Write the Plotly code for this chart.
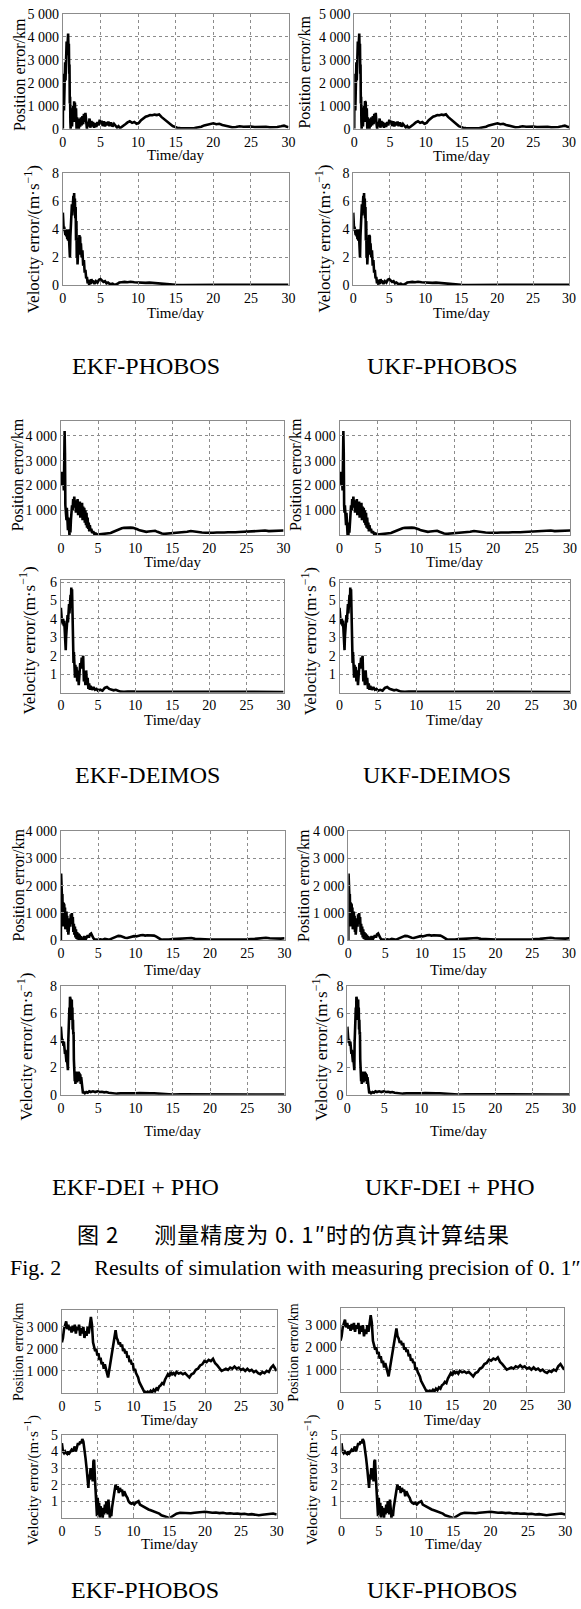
import plotly.graph_objects as go

W, H = 581, 1609
FONT = "Liberation Serif, Times New Roman, serif"
CJK = "Noto Sans CJK SC, sans-serif"

# ---------------- data (time/day, value) ----------------
# measuring precision 0.1", PHOBOS (EKF and UKF panels read identical)
phobos_pos = [(0.0, 0), (0.03, 2400), (0.07, 300), (0.11, 2200), (0.15, 800), (0.2, 2600), (0.25, 1500),
    (0.3, 2900), (0.35, 2100), (0.4, 3400), (0.45, 2700), (0.5, 3800), (0.55, 3200), (0.6, 4000),
    (0.65, 3500), (0.7, 4150), (0.75, 3400), (0.8, 3700), (0.84, 2400), (0.88, 2800), (0.92, 1100),
    (0.96, 1400), (1.0, 300), (1.04, 0), (1.08, 900), (1.12, 200), (1.17, 800), (1.22, 100), (1.3, 750),
    (1.38, 1000), (1.45, 300), (1.5, 1200), (1.55, 600), (1.6, 1150), (1.68, 300), (1.75, 900), (1.82, 0),
    (1.9, 500), (1.97, 100), (2.05, 450), (2.12, 0), (2.22, 350), (2.3, 100), (2.4, 500), (2.5, 150),
    (2.6, 550), (2.7, 200), (2.8, 650), (2.9, 300), (3.0, 700), (3.1, 250), (3.2, 0), (3.3, 300),
    (3.4, 100), (3.55, 450), (3.65, 50), (3.8, 350), (3.9, 100), (4.0, 300), (4.15, 50), (4.3, 250),
    (4.45, 80), (4.6, 300), (4.75, 150), (4.9, 400), (5.0, 250), (5.15, 350), (5.3, 120), (5.45, 330),
    (5.6, 100), (5.75, 300), (5.9, 150), (6.05, 320), (6.2, 120), (6.4, 280), (6.6, 100), (6.8, 220),
    (7.0, 150), (7.2, 60), (7.4, 120), (7.6, 30), (7.8, 80), (8.0, 120), (8.3, 200), (8.6, 280),
    (8.9, 330), (9.2, 260), (9.5, 300), (9.8, 220), (10.1, 260), (10.4, 380), (10.7, 470), (11.0, 530),
    (11.3, 560), (11.6, 600), (11.9, 590), (12.2, 620), (12.5, 600), (12.8, 630), (13.1, 520),
    (13.4, 430), (13.7, 350), (14.0, 270), (14.3, 200), (14.6, 120), (14.9, 70), (15.2, 50), (15.6, 40),
    (16.0, 30), (16.5, 40), (17.0, 25), (17.5, 35), (18.0, 50), (18.4, 90), (18.8, 150), (19.2, 190),
    (19.6, 210), (20.0, 240), (20.4, 200), (20.8, 220), (21.2, 170), (21.6, 130), (22.0, 100),
    (22.5, 70), (23.0, 80), (23.5, 110), (24.0, 90), (24.5, 110), (25.0, 100), (25.5, 80), (26.0, 90),
    (26.5, 70), (27.0, 90), (27.5, 70), (28.0, 60), (28.5, 80), (29.0, 110), (29.4, 140), (29.7, 100),
    (30.0, 70)]

phobos_vel = [(0.0, 5.2), (0.04, 4.0), (0.08, 4.6), (0.12, 3.9), (0.17, 4.2), (0.22, 3.8), (0.28, 4.1),
    (0.34, 3.6), (0.4, 4.0), (0.46, 3.5), (0.52, 3.9), (0.58, 3.3), (0.64, 3.8), (0.7, 3.2), (0.76, 4.0),
    (0.82, 3.4), (0.88, 2.6), (0.94, 2.0), (1.0, 3.5), (1.05, 4.6), (1.1, 5.4), (1.15, 4.8), (1.2, 5.8),
    (1.25, 5.0), (1.3, 6.0), (1.35, 5.2), (1.4, 6.4), (1.45, 5.5), (1.5, 6.6), (1.55, 5.4), (1.6, 6.2),
    (1.65, 4.8), (1.7, 5.6), (1.75, 3.2), (1.8, 4.6), (1.85, 2.0), (1.9, 3.4), (1.95, 1.5), (2.0, 2.8),
    (2.05, 1.8), (2.1, 3.2), (2.15, 2.4), (2.2, 3.6), (2.25, 2.6), (2.3, 3.5), (2.35, 2.2), (2.4, 3.0),
    (2.5, 2.0), (2.6, 2.5), (2.7, 1.4), (2.8, 1.8), (2.9, 0.9), (3.0, 1.1), (3.1, 0.5), (3.2, 0.6),
    (3.3, 0.15), (3.4, 0.3), (3.5, 0.05), (3.6, 0.4), (3.7, 0.1), (3.8, 0.45), (3.9, 0.15), (4.0, 0.35),
    (4.2, 0.1), (4.4, 0.3), (4.6, 0.2), (4.8, 0.4), (5.0, 0.45), (5.2, 0.35), (5.4, 0.25), (5.6, 0.3),
    (5.8, 0.15), (6.0, 0.2), (6.3, 0.08), (6.6, 0.12), (6.9, 0.03), (7.2, 0.1), (7.5, 0.2), (7.8, 0.22),
    (8.2, 0.25), (8.6, 0.22), (9.0, 0.26), (9.5, 0.22), (10.0, 0.2), (10.5, 0.22), (11.0, 0.18),
    (11.5, 0.2), (12.0, 0.17), (12.5, 0.15), (13.0, 0.13), (13.5, 0.08), (14.0, 0.05), (15.0, 0.04),
    (16.0, 0.03), (17.0, 0.04), (18.0, 0.04), (19.0, 0.05), (20.0, 0.08), (21.0, 0.05), (22.0, 0.04),
    (24.0, 0.04), (26.0, 0.03), (28.0, 0.03), (30.0, 0.04)]

# measuring precision 0.1", DEIMOS
deimos_pos = [(0.0, 2000), (0.05, 2450), (0.1, 2300), (0.15, 2550), (0.2, 2400), (0.25, 2200), (0.3, 2450),
    (0.35, 2000), (0.4, 1800), (0.45, 3000), (0.5, 4200), (0.55, 3300), (0.6, 1200), (0.65, 900),
    (0.7, 1200), (0.75, 600), (0.8, 1100), (0.85, 400), (0.9, 900), (0.95, 200), (1.0, 700), (1.05, 0),
    (1.1, 500), (1.15, 0), (1.2, 300), (1.28, 100), (1.35, 600), (1.42, 900), (1.5, 1200), (1.58, 1000),
    (1.65, 1450), (1.72, 1100), (1.8, 1550), (1.88, 1200), (1.95, 1400), (2.02, 900), (2.1, 1350),
    (2.18, 1000), (2.25, 1450), (2.32, 800), (2.4, 1300), (2.48, 900), (2.55, 1350), (2.62, 700),
    (2.7, 1200), (2.78, 900), (2.85, 1300), (2.92, 600), (3.0, 1150), (3.08, 700), (3.15, 1100),
    (3.22, 500), (3.3, 1000), (3.38, 400), (3.45, 900), (3.52, 300), (3.6, 700), (3.68, 250), (3.75, 500),
    (3.82, 150), (3.9, 400), (4.0, 150), (4.1, 250), (4.2, 80), (4.35, 150), (4.5, 40), (4.7, 60),
    (4.9, 20), (5.2, 30), (5.5, 20), (5.8, 40), (6.1, 30), (6.4, 60), (6.7, 80), (7.0, 120), (7.3, 160),
    (7.6, 220), (7.9, 260), (8.2, 270), (8.5, 290), (8.8, 300), (9.1, 310), (9.4, 300), (9.7, 290),
    (10.0, 270), (10.3, 230), (10.6, 190), (10.9, 160), (11.2, 140), (11.5, 130), (11.8, 140),
    (12.1, 150), (12.4, 190), (12.7, 170), (13.0, 130), (13.3, 90), (13.6, 60), (14.0, 50), (14.5, 60),
    (15.0, 70), (15.5, 100), (16.0, 110), (16.5, 120), (17.0, 130), (17.5, 160), (18.0, 130),
    (18.5, 110), (19.0, 100), (19.5, 90), (20.0, 80), (20.5, 90), (21.0, 100), (21.5, 90), (22.0, 100),
    (22.5, 110), (23.0, 100), (23.5, 110), (24.0, 120), (24.5, 130), (25.0, 150), (25.5, 160),
    (26.0, 170), (26.5, 180), (27.0, 170), (27.5, 180), (28.0, 160), (28.5, 170), (29.0, 180),
    (29.5, 170), (30.0, 180)]

deimos_vel = [(0.0, 4.6), (0.05, 3.9), (0.1, 4.1), (0.15, 3.8), (0.2, 4.0), (0.25, 3.7), (0.3, 4.0),
    (0.35, 3.8), (0.4, 3.6), (0.45, 3.9), (0.5, 3.2), (0.55, 3.6), (0.6, 2.8), (0.65, 2.3), (0.7, 3.0),
    (0.75, 3.4), (0.8, 3.8), (0.85, 3.6), (0.9, 4.2), (0.95, 3.8), (1.0, 4.4), (1.05, 4.0), (1.1, 4.8),
    (1.15, 4.3), (1.2, 5.0), (1.25, 4.5), (1.3, 5.3), (1.35, 4.7), (1.4, 5.7), (1.45, 5.0), (1.5, 5.6),
    (1.55, 4.2), (1.6, 3.0), (1.65, 2.4), (1.7, 1.6), (1.75, 2.2), (1.8, 1.2), (1.85, 1.8), (1.9, 0.8),
    (1.95, 1.5), (2.0, 0.9), (2.1, 1.4), (2.2, 0.6), (2.3, 1.2), (2.4, 0.4), (2.5, 1.0), (2.6, 1.6),
    (2.7, 1.3), (2.8, 1.9), (2.9, 1.6), (3.0, 2.0), (3.05, 1.2), (3.1, 0.6), (3.2, 0.9), (3.3, 0.4),
    (3.4, 1.2), (3.5, 0.5), (3.6, 0.8), (3.7, 0.2), (3.8, 0.5), (3.9, 0.15), (4.0, 0.35), (4.2, 0.15),
    (4.4, 0.3), (4.6, 0.15), (4.8, 0.2), (5.0, 0.1), (5.3, 0.15), (5.6, 0.1), (5.9, 0.25), (6.2, 0.3),
    (6.5, 0.2), (6.8, 0.15), (7.1, 0.12), (7.4, 0.15), (7.7, 0.08), (8.0, 0.05), (8.5, 0.04), (9.0, 0.06),
    (10.0, 0.05), (11.0, 0.05), (12.0, 0.06), (13.0, 0.05), (14.0, 0.04), (15.0, 0.03), (17.0, 0.04),
    (19.0, 0.03), (21.0, 0.03), (23.0, 0.03), (25.0, 0.03), (27.0, 0.03), (30.0, 0.03)]

# measuring precision 0.1", DEI+PHO
deipho_pos = [(0.0, 0), (0.03, 2450), (0.06, 1800), (0.09, 400), (0.12, 1750), (0.16, 1500), (0.2, 1700),
    (0.24, 1000), (0.28, 1400), (0.32, 500), (0.36, 1350), (0.4, 800), (0.45, 1300), (0.5, 600),
    (0.55, 1200), (0.6, 400), (0.65, 1000), (0.7, 700), (0.75, 1050), (0.8, 400), (0.85, 900), (0.9, 300),
    (0.95, 750), (1.0, 200), (1.05, 600), (1.1, 300), (1.17, 800), (1.25, 500), (1.32, 950), (1.4, 700),
    (1.47, 1000), (1.54, 600), (1.6, 850), (1.67, 300), (1.74, 600), (1.8, 200), (1.88, 500), (1.95, 100),
    (2.02, 400), (2.1, 50), (2.18, 300), (2.26, 20), (2.35, 250), (2.44, 0), (2.52, 200), (2.6, 30),
    (2.7, 150), (2.8, 0), (2.9, 100), (3.0, 0), (3.15, 150), (3.3, 20), (3.45, 100), (3.6, 180),
    (3.75, 100), (3.9, 220), (4.05, 250), (4.2, 150), (4.35, 80), (4.5, 30), (4.7, 20), (5.0, 20),
    (5.3, 30), (5.6, 20), (5.9, 50), (6.2, 30), (6.5, 20), (6.8, 60), (7.1, 90), (7.4, 130), (7.7, 160),
    (8.0, 150), (8.3, 110), (8.6, 90), (8.9, 80), (9.2, 100), (9.5, 130), (9.8, 150), (10.1, 140),
    (10.4, 170), (10.7, 180), (11.0, 190), (11.3, 170), (11.6, 180), (11.9, 170), (12.2, 160),
    (12.5, 170), (12.8, 130), (13.1, 70), (13.4, 30), (13.7, 20), (14.0, 15), (14.5, 25), (15.0, 40),
    (15.5, 50), (16.0, 45), (16.5, 50), (17.0, 60), (17.5, 80), (18.0, 50), (18.5, 40), (19.0, 35),
    (19.5, 30), (20.0, 25), (21.0, 20), (22.0, 20), (23.0, 25), (24.0, 30), (25.0, 35), (26.0, 50),
    (26.5, 60), (27.0, 70), (27.5, 90), (28.0, 70), (28.5, 60), (29.0, 55), (29.5, 60), (30.0, 70)]

deipho_vel = [(0.0, 5.0), (0.04, 4.2), (0.08, 3.9), (0.12, 4.2), (0.16, 3.8), (0.2, 4.1), (0.25, 3.7),
    (0.3, 4.0), (0.35, 3.6), (0.4, 3.9), (0.45, 3.3), (0.5, 3.6), (0.55, 3.0), (0.6, 3.3), (0.65, 2.7),
    (0.7, 3.0), (0.75, 2.4), (0.8, 2.8), (0.85, 2.0), (0.9, 2.4), (0.94, 1.8), (0.98, 3.8), (1.02, 4.8),
    (1.06, 5.6), (1.1, 5.0), (1.14, 6.4), (1.18, 5.6), (1.22, 7.2), (1.26, 6.0), (1.3, 7.0), (1.34, 5.8),
    (1.38, 6.8), (1.42, 5.5), (1.46, 7.0), (1.5, 5.6), (1.54, 6.4), (1.58, 4.8), (1.62, 5.5), (1.66, 4.4),
    (1.7, 4.6), (1.74, 2.6), (1.78, 1.0), (1.82, 1.8), (1.86, 1.0), (1.9, 1.6), (1.95, 0.8), (2.0, 1.7),
    (2.06, 1.0), (2.12, 1.6), (2.18, 0.9), (2.24, 1.5), (2.3, 1.1), (2.36, 1.7), (2.42, 1.0), (2.48, 1.6),
    (2.54, 1.2), (2.6, 1.5), (2.66, 0.8), (2.72, 1.3), (2.78, 0.7), (2.84, 1.0), (2.9, 0.4), (2.96, 0.1),
    (3.05, 0.2), (3.2, 0.1), (3.4, 0.2), (3.6, 0.15), (3.8, 0.25), (4.0, 0.2), (4.3, 0.25), (4.6, 0.2),
    (4.9, 0.25), (5.2, 0.2), (5.5, 0.22), (5.8, 0.18), (6.1, 0.2), (6.4, 0.15), (6.7, 0.12), (7.0, 0.1),
    (7.5, 0.08), (8.0, 0.1), (8.5, 0.09), (9.0, 0.11), (9.5, 0.1), (10.0, 0.1), (10.5, 0.12), (11.0, 0.1),
    (11.5, 0.11), (12.0, 0.1), (12.5, 0.1), (13.0, 0.08), (13.5, 0.04), (14.0, 0.02), (15.0, 0.02),
    (16.0, 0.03), (18.0, 0.02), (20.0, 0.03), (22.0, 0.02), (24.0, 0.02), (26.0, 0.02), (28.0, 0.02),
    (30.0, 0.02)]

# second PHOBOS case (bottom block)
phobos2_pos = [(0.0, 2300), (0.15, 2500), (0.3, 2900), (0.45, 3100), (0.6, 3250), (0.75, 2900), (0.9, 3100),
    (1.05, 2850), (1.2, 3000), (1.35, 2750), (1.5, 3050), (1.65, 2800), (1.8, 3100), (1.95, 2700),
    (2.1, 3000), (2.25, 2850), (2.4, 3100), (2.55, 2600), (2.7, 2950), (2.85, 2700), (3.0, 3000),
    (3.15, 2500), (3.3, 2800), (3.45, 2600), (3.6, 3000), (3.75, 2700), (3.9, 3200), (4.05, 3450),
    (4.2, 3100), (4.35, 2300), (4.5, 2100), (4.65, 1900), (4.8, 2000), (4.95, 1700), (5.1, 1800),
    (5.25, 1500), (5.4, 1600), (5.55, 1300), (5.7, 1400), (5.85, 1100), (6.0, 1300), (6.15, 1000),
    (6.3, 900), (6.45, 700), (6.6, 1000), (6.75, 1300), (6.9, 1600), (7.05, 1900), (7.2, 2200),
    (7.35, 2500), (7.5, 2850), (7.65, 2500), (7.8, 2400), (7.95, 2200), (8.1, 2300), (8.25, 2100),
    (8.4, 2200), (8.55, 1900), (8.7, 2000), (8.85, 1800), (9.0, 1900), (9.15, 1600), (9.3, 1700),
    (9.45, 1400), (9.6, 1500), (9.75, 1300), (9.9, 1350), (10.05, 1000), (10.2, 1100), (10.35, 900),
    (10.5, 800), (10.65, 700), (10.8, 500), (10.95, 400), (11.1, 300), (11.25, 200), (11.4, 80),
    (11.55, 20), (11.7, 50), (11.85, 0), (12.0, 60), (12.2, 20), (12.4, 100), (12.6, 30), (12.8, 150),
    (13.0, 80), (13.2, 200), (13.4, 150), (13.6, 300), (13.8, 350), (14.0, 450), (14.2, 400), (14.4, 600),
    (14.6, 700), (14.8, 850), (15.0, 750), (15.2, 950), (15.4, 850), (15.6, 900), (15.8, 820), (16.0, 950),
    (16.3, 880), (16.6, 920), (16.9, 850), (17.2, 900), (17.5, 800), (17.8, 700), (18.1, 850), (18.4, 900),
    (18.7, 1050), (19.0, 1100), (19.3, 1250), (19.6, 1300), (19.9, 1450), (20.2, 1400), (20.5, 1500),
    (20.8, 1450), (21.1, 1550), (21.4, 1350), (21.7, 1250), (22.0, 1100), (22.3, 1000), (22.6, 1050),
    (22.9, 1100), (23.2, 1050), (23.5, 1150), (23.8, 1100), (24.1, 1200), (24.4, 1100), (24.7, 1150),
    (25.0, 1050), (25.3, 1100), (25.6, 1000), (25.9, 1100), (26.2, 1000), (26.5, 1050), (26.8, 950),
    (27.1, 1000), (27.4, 900), (27.7, 850), (28.0, 950), (28.3, 900), (28.6, 1000), (28.9, 950),
    (29.2, 1150), (29.5, 1250), (29.8, 1100), (30.0, 1000)]

phobos2_vel = [(0.0, 4.5), (0.15, 4.0), (0.3, 3.9), (0.45, 4.0), (0.6, 3.9), (0.75, 3.85), (0.9, 4.0),
    (1.05, 3.9), (1.2, 4.0), (1.35, 4.1), (1.5, 4.0), (1.65, 4.2), (1.8, 4.3), (1.95, 4.0), (2.1, 4.3),
    (2.25, 4.5), (2.4, 4.4), (2.55, 4.6), (2.7, 4.5), (2.85, 4.75), (3.0, 4.6), (3.15, 4.2), (3.3, 3.6),
    (3.45, 3.0), (3.6, 2.4), (3.7, 1.8), (3.8, 2.6), (3.9, 2.3), (4.0, 3.0), (4.1, 2.6), (4.2, 2.8),
    (4.3, 2.2), (4.4, 3.4), (4.5, 3.5), (4.6, 2.5), (4.7, 1.5), (4.8, 0.6), (4.9, 0.1), (5.0, 1.2),
    (5.1, 0.3), (5.2, 0.9), (5.3, 0.0), (5.4, 0.7), (5.5, 0.2), (5.6, 0.6), (5.7, 0.0), (5.8, 0.5),
    (5.9, 0.2), (6.0, 0.8), (6.1, 0.3), (6.2, 1.0), (6.3, 0.4), (6.4, 0.2), (6.5, 1.1), (6.6, 0.3),
    (6.7, 0.0), (6.8, 0.4), (6.9, 0.1), (7.0, 0.6), (7.1, 1.0), (7.2, 1.4), (7.35, 1.6), (7.5, 2.0),
    (7.65, 1.7), (7.8, 1.9), (7.95, 1.5), (8.1, 1.8), (8.25, 1.6), (8.4, 1.7), (8.55, 1.3), (8.7, 1.6),
    (8.85, 1.4), (9.0, 1.3), (9.15, 1.2), (9.3, 1.0), (9.5, 0.9), (9.7, 0.85), (9.9, 0.9), (10.1, 0.8),
    (10.3, 0.9), (10.5, 0.95), (10.7, 1.0), (10.9, 0.8), (11.1, 0.75), (11.3, 0.7), (11.5, 0.6),
    (11.8, 0.55), (12.1, 0.5), (12.4, 0.45), (12.7, 0.4), (13.0, 0.35), (13.3, 0.3), (13.6, 0.25),
    (13.9, 0.15), (14.2, 0.1), (14.5, 0.05), (14.8, 0.02), (15.1, 0.0), (15.4, 0.08), (15.7, 0.15),
    (16.0, 0.25), (16.5, 0.3), (17.0, 0.28), (17.5, 0.3), (18.0, 0.27), (18.5, 0.3), (19.0, 0.32),
    (19.5, 0.33), (20.0, 0.36), (20.5, 0.33), (21.0, 0.3), (21.5, 0.32), (22.0, 0.28), (22.5, 0.3),
    (23.0, 0.26), (23.5, 0.27), (24.0, 0.24), (24.5, 0.26), (25.0, 0.22), (25.5, 0.24), (26.0, 0.2),
    (26.5, 0.22), (27.0, 0.18), (27.5, 0.15), (28.0, 0.18), (28.5, 0.2), (29.0, 0.22), (29.5, 0.26),
    (30.0, 0.2)]

# ---------------- tick labels ----------------
x_ticks = [0, 5, 10, 15, 20, 25, 30]
pos_ticks_5k = [0, 1000, 2000, 3000, 4000, 5000]
pos_ticks_4k = [0, 1000, 2000, 3000, 4000]
pos_ticks_4k_no0 = [1000, 2000, 3000, 4000]
pos_ticks_3k_no0 = [1000, 2000, 3000]
vel_ticks_8 = [0, 2, 4, 6, 8]
vel_ticks_6 = [1, 2, 3, 4, 5, 6]
vel_ticks_5 = [1, 2, 3, 4, 5]


def kfmt(v):
    return "0" if v == 0 else f"{v // 1000} 000"


POS_T = "Position error/km"
VEL_T = "Velocity error/(m·s<sup>−1</sup>)"

# (box x0, x1, y0, y1 in px, data, y range, y ticks, y title, title x, title y, Time/day y, title size)
panels = [
    (60, 290, 7, 123, phobos_pos, [0, 5000], pos_ticks_5k, POS_T, 16, 68, 149, 16),
    (60, 290, 168, 281, phobos_vel, [0, 8], vel_ticks_8, VEL_T, 28, 234, 309, 17),
    (357, 576, 7, 123, phobos_pos, [0, 5000], pos_ticks_5k, POS_T, 306, 66, 150, 16),
    (356, 576, 168, 281, phobos_vel, [0, 8], vel_ticks_8, VEL_T, 325, 234, 309, 17),
    (58, 285, 418, 533, deimos_pos, [0, 4600], pos_ticks_4k_no0, POS_T, 14, 472, 560, 16),
    (58, 285, 578, 692, deimos_vel, [0, 6.13], vel_ticks_6, VEL_T, 24, 640, 720, 17),
    (342, 577, 418, 533, deimos_pos, [0, 4600], pos_ticks_4k_no0, POS_T, 297, 472, 560, 16),
    (342, 577, 578, 692, deimos_vel, [0, 6.13], vel_ticks_6, VEL_T, 311, 640, 720, 17),
    (58, 286, 832, 942, deipho_pos, [0, 4000], pos_ticks_4k, POS_T, 15, 886, 972, 16),
    (58, 286, 988, 1098, deipho_vel, [0, 8], vel_ticks_8, VEL_T, 22, 1050, 1135, 17),
    (351, 576, 832, 942, deipho_pos, [0, 4000], pos_ticks_4k, POS_T, 306, 887, 972, 16),
    (350, 576, 988, 1098, deipho_vel, [0, 8], vel_ticks_8, VEL_T, 322, 1050, 1135, 17),
    (59, 278, 1315, 1399, phobos2_pos, [0, 3780], pos_ticks_3k_no0, POS_T, 15, 1358, 1426, 14),
    (59, 278, 1441, 1525, phobos2_vel, [0, 5.02], vel_ticks_5, VEL_T, 28, 1487, 1551, 15),
    (343, 571, 1313, 1398, phobos2_pos, [0, 3780], pos_ticks_3k_no0, POS_T, 295, 1358, 1426, 14),
    (344, 572, 1441, 1525, phobos2_vel, [0, 5.02], vel_ticks_5, VEL_T, 313, 1487, 1551, 15),
]

captions = [
    ("EKF-PHOBOS", 145, 362, 24, FONT, ""), ("UKF-PHOBOS", 447, 362, 24, FONT, ""),
    ("EKF-DEIMOS", 146, 775, 24, FONT, ""), ("UKF-DEIMOS", 441, 775, 24, FONT, ""),
    ("EKF-DEI + PHO", 134, 1191, 24, FONT, ""), ("UKF-DEI + PHO", 455, 1191, 24, FONT, ""),
    ("图 2\u2003\u2002测量精度为 0. 1″时的仿真计算结果", 295, 1238, 22, CJK, "letter-spacing:1px"),
    ("Fig. 2\u2003\u2002Results of simulation with measuring precision of 0. 1″", 297, 1272, 22, FONT, ""),
    ("EKF-PHOBOS", 144, 1598, 24, FONT, ""), ("UKF-PHOBOS", 447, 1598, 24, FONT, ""),
]

GRID = "#8c8c8c"
fig = go.Figure()
layout = {}
annotations = []
for i, (x0, x1, y0, y1, data, yr, yt, ytitle, tx, ty, xty, tfs) in enumerate(panels, start=1):
    sfx = "" if i == 1 else str(i)
    t = [p[0] for p in data]
    v = [p[1] for p in data]
    fig.add_trace(go.Scatter(x=t, y=v, mode="lines", line=dict(color="black", width=2.6),
                             xaxis="x" + sfx, yaxis="y" + sfx, showlegend=False, hoverinfo="skip"))
    common = dict(showgrid=True, gridcolor=GRID, griddash="dot", gridwidth=1,
                  showline=True, mirror=True, linecolor=GRID, linewidth=1, zeroline=False,
                  ticks="inside", ticklen=3, tickcolor=GRID,
                  tickfont=dict(family=FONT, size=14, color="black"), fixedrange=True)
    layout["xaxis" + sfx] = dict(domain=[x0 / W, x1 / W], anchor="y" + sfx, range=[0, 30],
                                 tickvals=x_ticks, ticktext=[str(k) for k in x_ticks], **common)
    if yr[1] > 100:
        ytext = [kfmt(k) for k in yt]
    else:
        ytext = [str(k) for k in yt]
    layout["yaxis" + sfx] = dict(domain=[1 - y1 / H, 1 - y0 / H], anchor="x" + sfx, range=yr,
                                 tickvals=yt, ticktext=ytext, **common)
    annotations.append(dict(text=ytitle, x=tx / W, y=1 - ty / H, xref="paper", yref="paper",
                            xanchor="center", yanchor="middle", textangle=-90, showarrow=False,
                            font=dict(family=FONT, size=tfs, color="black")))
    annotations.append(dict(text="Time/day", x=(x0 + x1) / 2 / W, y=1 - xty / H, xref="paper",
                            yref="paper", xanchor="center", yanchor="middle", showarrow=False,
                            font=dict(family=FONT, size=15, color="black")))

for txt, cx, cy, fs, fam, style in captions:
    label = f'<span style="{style}">{txt}</span>' if style else txt
    annotations.append(dict(text=label, x=cx / W, y=1 - cy / H, xref="paper", yref="paper",
                            xanchor="center", yanchor="middle", showarrow=False,
                            font=dict(family=fam, size=fs, color="black")))

fig.update_layout(width=W, height=H, autosize=False, margin=dict(l=0, r=0, t=0, b=0),
                  paper_bgcolor="white", plot_bgcolor="white", showlegend=False,
                  annotations=annotations, **layout)

fig.write_html("out.html", config={"displayModeBar": False, "staticPlot": True},
               post_script="document.body.style.margin='0';")
